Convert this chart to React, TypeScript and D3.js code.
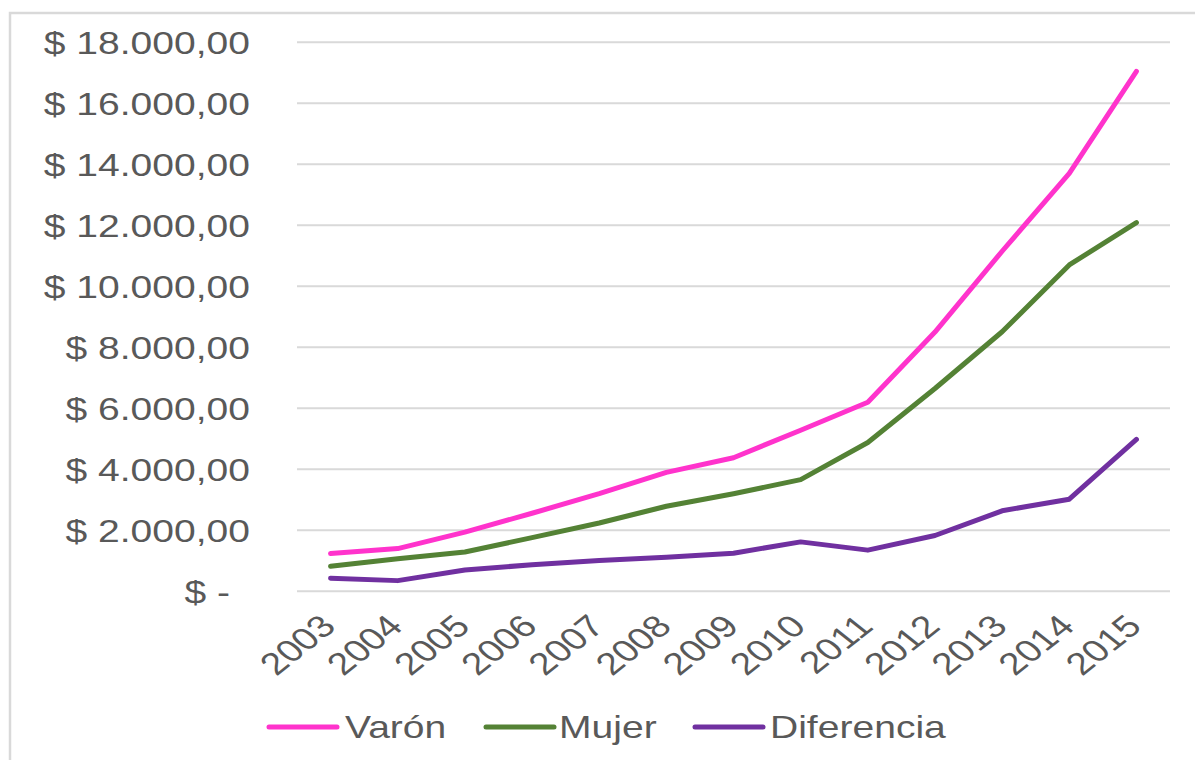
import React from "react";
import * as d3 from "d3";

const years = ["2003","2004","2005","2006","2007","2008","2009","2010","2011","2012","2013","2014","2015"];
const varon = [1240, 1400, 1940, 2560, 3200, 3900, 4380, 5280, 6200, 8500, 11150, 13700, 17050];
const mujer = [820, 1070, 1290, 1760, 2240, 2790, 3200, 3660, 4880, 6650, 8510, 10700, 12090];
const diferencia = [430, 350, 700, 870, 1010, 1120, 1250, 1620, 1350, 1830, 2640, 3020, 4980];
const yTicks = [0, 2000, 4000, 6000, 8000, 10000, 12000, 14000, 16000, 18000];
const seriesNames = ["Varón", "Mujer", "Diferencia"];
const seriesColors = ["#ff33cc", "#548235", "#7030a0"];

const W = 1195;
const H = 760;
const SX = 1.26;
const FONT = "'Liberation Sans', Arial, sans-serif";
const TEXT = "#595959";

function fmt(v: number): string {
  if (v === 0) return "$ -";
  const s = Math.round(v).toString().replace(/\B(?=(\d{3})+(?!\d))/g, ".");
  return "$ " + s + ",00";
}

export default function App() {
  const x = d3.scaleBand<string>().domain(years).range([297, 1170]);
  const cx = (yr: string) => (x(yr) as number) + x.bandwidth() / 2;
  const y = d3.scaleLinear().domain([0, 18000]).range([591.3, 42.3]);
  const line = d3
    .line<number>()
    .x((_, i) => cx(years[i]))
    .y((d) => y(d));
  const data = [varon, mujer, diferencia];

  const legendItems = [
    { lx: 269, tx: 345 },
    { lx: 486, tx: 559 },
    { lx: 695, tx: 770 },
  ];

  return (
    <svg
      width={W}
      height={H}
      style={{ position: "absolute", left: 0, top: 0, background: "#fff" }}
      fontFamily={FONT}
    >
      <rect x={0} y={0} width={W} height={H} fill="#fff" />
      <rect x={10} y={13} width={1300} height={900} fill="none" stroke="#d9d9d9" strokeWidth={2.5} />
      {yTicks.map((t) => (
        <g key={t}>
          <line x1={297} x2={1170} y1={y(t)} y2={y(t)} stroke="#d9d9d9" strokeWidth={2} />
          <text
            transform={`translate(${t === 0 ? 230 : 250},${y(t) + 11.3}) scale(${SX},1)`}
            textAnchor="end"
            fontSize={31}
            fill={TEXT}
          >
            {fmt(t)}
          </text>
        </g>
      ))}
      {years.map((yr) => (
        <text
          key={yr}
          transform={`translate(${cx(yr) + 7},${628}) scale(${SX},1) rotate(-45)`}
          textAnchor="end"
          fontSize={31}
          fill={TEXT}
        >
          {yr}
        </text>
      ))}
      {data.map((d, i) => (
        <path
          key={seriesNames[i]}
          d={line(d) as string}
          fill="none"
          stroke={seriesColors[i]}
          strokeWidth={5}
          strokeLinecap="round"
          strokeLinejoin="round"
        />
      ))}
      {seriesNames.map((n, i) => (
        <g key={n}>
          <line
            x1={legendItems[i].lx}
            x2={legendItems[i].lx + 68}
            y1={727}
            y2={727}
            stroke={seriesColors[i]}
            strokeWidth={5}
            strokeLinecap="round"
          />
          <text
            transform={`translate(${legendItems[i].tx},${738}) scale(${SX},1)`}
            fontSize={31}
            fill={TEXT}
          >
            {n}
          </text>
        </g>
      ))}
    </svg>
  );
}
